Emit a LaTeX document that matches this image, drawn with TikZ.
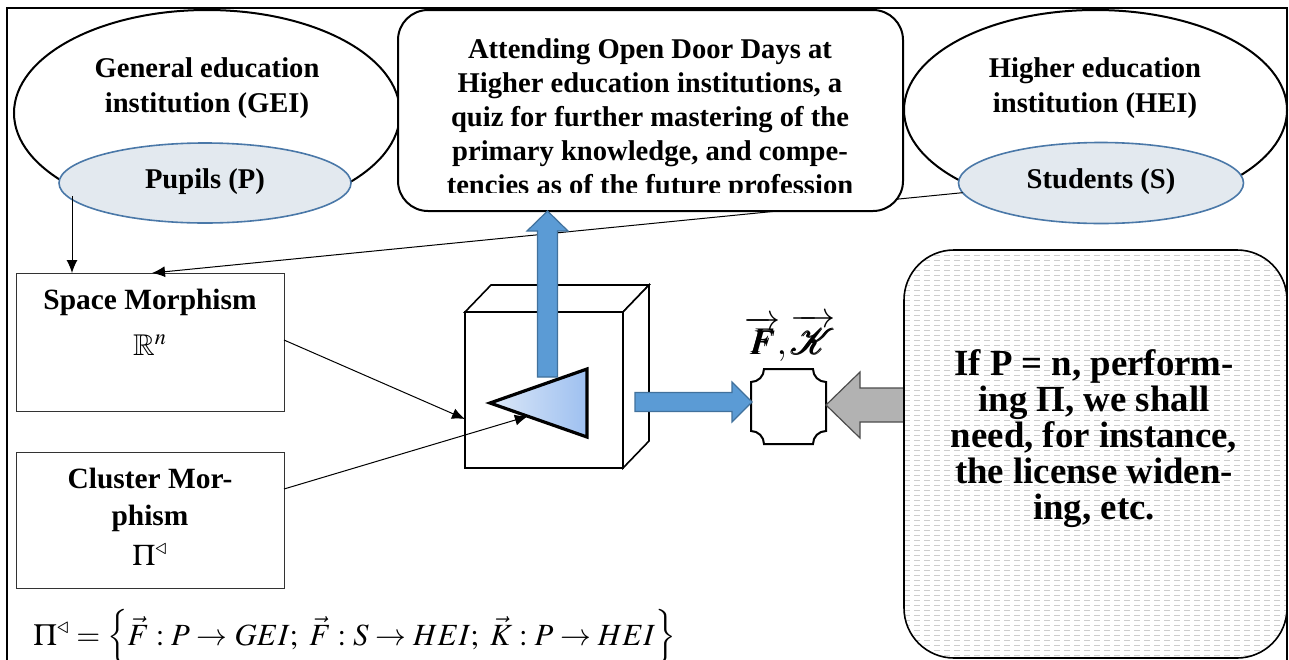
\documentclass[tikz,border=0pt]{standalone}
\usepackage{amsmath}
\usepackage{amssymb}
\usepackage{mathptmx}
\usepackage{bm}
\usepackage{fontspec}
\setmainfont{Liberation Serif}
\usetikzlibrary{calc,shapes.geometric,arrows.meta}

\definecolor{arrowblue}{HTML}{5B9BD5}
\definecolor{arrowedge}{HTML}{41719C}
\definecolor{innerfill}{HTML}{E3E9EF}
\definecolor{inneredge}{HTML}{4A78A8}
\definecolor{trilight}{HTML}{DCE8F8}
\definecolor{trideep}{HTML}{9EC0F0}
\definecolor{dashgray}{HTML}{CDCDCD}

\begin{document}
\begin{tikzpicture}[x=0.5pt,y=-0.5pt,
  outerellipse/.style={ellipse, draw=black, line width=1pt, fill=white, inner sep=0pt, outer sep=0pt},
  innerellipse/.style={ellipse, draw=inneredge, line width=0.8pt, fill=innerfill, inner sep=0pt, outer sep=0pt},
  titletext/.style={font=\fontsize{14.3}{17.5}\selectfont\bfseries, align=center, inner sep=0pt},
  boxtext/.style={font=\fontsize{14.3}{17}\selectfont\bfseries, align=center, inner sep=0pt},
  morphtext/.style={font=\fontsize{14.7}{18.5}\selectfont\bfseries, align=center, inner sep=0pt},
  mathtext/.style={font=\fontsize{15}{18}\selectfont, inner sep=0pt},
  notetext/.style={font=\fontsize{18.4}{18}\selectfont\bfseries, align=center, inner sep=0pt},
  morphbox/.style={draw=black!80, line width=0.5pt, fill=white, inner sep=0pt, outer sep=0pt,
    minimum width=134pt},
  tarrow/.style={-{Latex[length=6.5pt,width=5.5pt]}, line width=0.5pt},
  blockarrow/.style={fill=arrowblue, draw=arrowedge, line width=0.6pt, line join=miter},
  grayarrow/.style={fill=gray!60, draw=black!70, line width=0.6pt, line join=miter},
  cubeline/.style={draw=black, line width=0.8pt, fill=white, line join=miter}
]
\useasboundingbox (0,0) rectangle (1289,659);

% outer frame
\draw[line width=1.1pt] (7,8) rectangle (1287,720);

% institutions and their members
\node[outerellipse, minimum width=193pt, minimum height=103pt] (gei) at (207,113) {};
\node[innerellipse, minimum width=146pt, minimum height=40pt] (pupils) at (205,183) {};
\node[outerellipse, minimum width=191.5pt, minimum height=100pt] (hei) at (1095.5,110) {};
\node[innerellipse, minimum width=142.5pt, minimum height=40.5pt] (students) at (1101,183) {};

\node[titletext, anchor=base] (geitext) at (207,112) {General education\\institution (GEI)};
\node[titletext, anchor=base] (pupilstext) at (205,188) {Pupils (P)};
\node[titletext, anchor=base] (heitext) at (1095,112) {Higher education\\institution (HEI)};
\node[titletext, anchor=base] (studentstext) at (1101,188) {Students (S)};

% morphism boxes
\node[morphbox, minimum height=69pt] (space) at (150,342) {};
\node[morphbox, minimum height=68pt] (cluster) at (150,520) {};
\node[morphtext, anchor=base] (spacetext) at (150,309) {Space Morphism};
\node[mathtext, anchor=base] (spacemath) at (150,355) {$\mathbb{R}^{n}$};
\node[morphtext, anchor=base] (clustertext) at (150,525) {Cluster Mor-\\phism};
\node[mathtext, anchor=base] (clustermath) at (150,565) {$\Pi^{\triangleleft}$};

% students feed the space morphism (runs beneath the activity box)
\draw[tarrow] (students.184) -- ([xshift=1pt]space.north);
% pupils feed the space morphism
\coordinate (pupilsout) at (72,196);
\draw[tarrow] (pupilsout) -- (pupilsout |- space.north);

% activity box
\node[draw=black, line width=1pt, fill=white, rounded corners=15pt,
      minimum width=252.5pt, minimum height=100.5pt, inner sep=0pt, outer sep=0pt]
      (activity) at (650.5,110.5) {};
\begin{scope}
  \clip (400,12) rectangle (901,192);
  \node[boxtext, anchor=base] (activitytext) at (650,194)
    {Attending Open Door Days at\\Higher education institutions, a\\quiz for further mastering of the\\primary knowledge, and compe-\\tencies as of the future profession};
\end{scope}

% the processing cube
\node[cubeline, draw, minimum width=79pt, minimum height=78pt, inner sep=0pt, outer sep=0pt] (cube) at (544,390) {};
\draw[cubeline] (cube.north west) -- ++(26,-27) -- ($(cube.north east)+(26,-27)$) -- (cube.north east) -- cycle;
\draw[cubeline] (cube.north east) -- ++(26,-27) -- ($(cube.south east)+(26,-27)$) -- (cube.south east) -- cycle;

% triangle inside the cube
\coordinate (tipL) at (490,403);
\coordinate (tipT) at (587,369);
\coordinate (tipB) at (587,437);
\draw[line width=1.6pt, line join=miter, left color=trilight, right color=trideep]
  (tipL) -- (tipT) -- (tipB) -- cycle;
\coordinate (triin) at ($(tipL)!0.39!(tipB)$);

% thin inputs into the cube
\draw[tarrow] ([yshift=1pt]space.east) -- ([yshift=-14.5pt]cube.west);
\draw[tarrow] ([yshift=15.5pt]cluster.east) -- (triin);

% block arrow up to the activity box
\coordinate (upS) at (547.5,377);
\coordinate (upT) at (activity.south -| upS);
\draw[blockarrow] ($(upS)+(-10,0)$) -- ($(upT)+(-10,20)$) -- ($(upT)+(-20.5,20)$) -- (upT)
  -- ($(upT)+(20.5,20)$) -- ($(upT)+(10,20)$) -- ($(upS)+(10,0)$) -- cycle;

% result plaque
\node[minimum width=37.5pt, minimum height=37.5pt, inner sep=0pt, outer sep=0pt] (oct) at (788.5,406.5) {};
\draw[line width=1pt, fill=white]
  (764,369) -- (813,369) arc (180:90:13) -- (826,431) arc (270:180:13)
  -- (764,444) arc (360:270:13) -- (751,382) arc (90:0:13) -- cycle;
\node[font=\fontsize{18}{19}\selectfont, anchor=base, inner sep=0pt] (fk) at (790,354)
  {$\overrightarrow{\bm{F}}\!,\overrightarrow{\pmb{\mathcal{K}}}$};

% block arrow from the cube to the plaque
\coordinate (rS) at (635,402);
\coordinate (rT) at (752,402);
\draw[blockarrow] ($(rS)+(0,-9.5)$) -- ($(rT)+(-20,-9.5)$) -- ($(rT)+(-20,-20)$) -- (rT)
  -- ($(rT)+(-20,20)$) -- ($(rT)+(-20,9.5)$) -- ($(rS)+(0,9.5)$) -- cycle;

% gray arrow from the note to the plaque
\coordinate (gT) at (826,405);
\coordinate (gS) at (906,405);
\draw[grayarrow] ($(gS)+(0,-17)$) -- ($(gT)+(34,-17)$) -- ($(gT)+(34,-33)$) -- (gT)
  -- ($(gT)+(34,33)$) -- ($(gT)+(34,17)$) -- ($(gS)+(0,17)$) -- cycle;

% note with horizontal dashed texture
\node[draw=black, line width=0.8pt, fill=white, rounded corners=25pt,
      minimum width=191.5pt, minimum height=204pt, inner sep=0pt, outer sep=0pt,
      path picture={
        \foreach \k in {1,...,82}
          \draw[dashgray, line width=0.3pt, dash pattern=on 3pt off 2pt]
            ($(path picture bounding box.north west)+(0,\k*5)$) --
            ($(path picture bounding box.north east)+(0,\k*5)$);
      }] (note) at (1095.5,454) {};
\node[notetext, anchor=base] (notetext) at (1094,519)
  {If P = n, perform-\\ing Π, we shall\\need, for instance,\\the license widen-\\ing, etc.};

% definition of the cluster morphism
\node[font=\fontsize{15.4}{18}\selectfont, inner sep=0pt, anchor=base west] (formula) at (33,645)
  {$\Pi^{\triangleleft}=\left\{\vec{F}:P\rightarrow GEI;\ \vec{F}:S\rightarrow HEI;\ \vec{K}:P\rightarrow HEI\right\}$};
\end{tikzpicture}
\end{document}
